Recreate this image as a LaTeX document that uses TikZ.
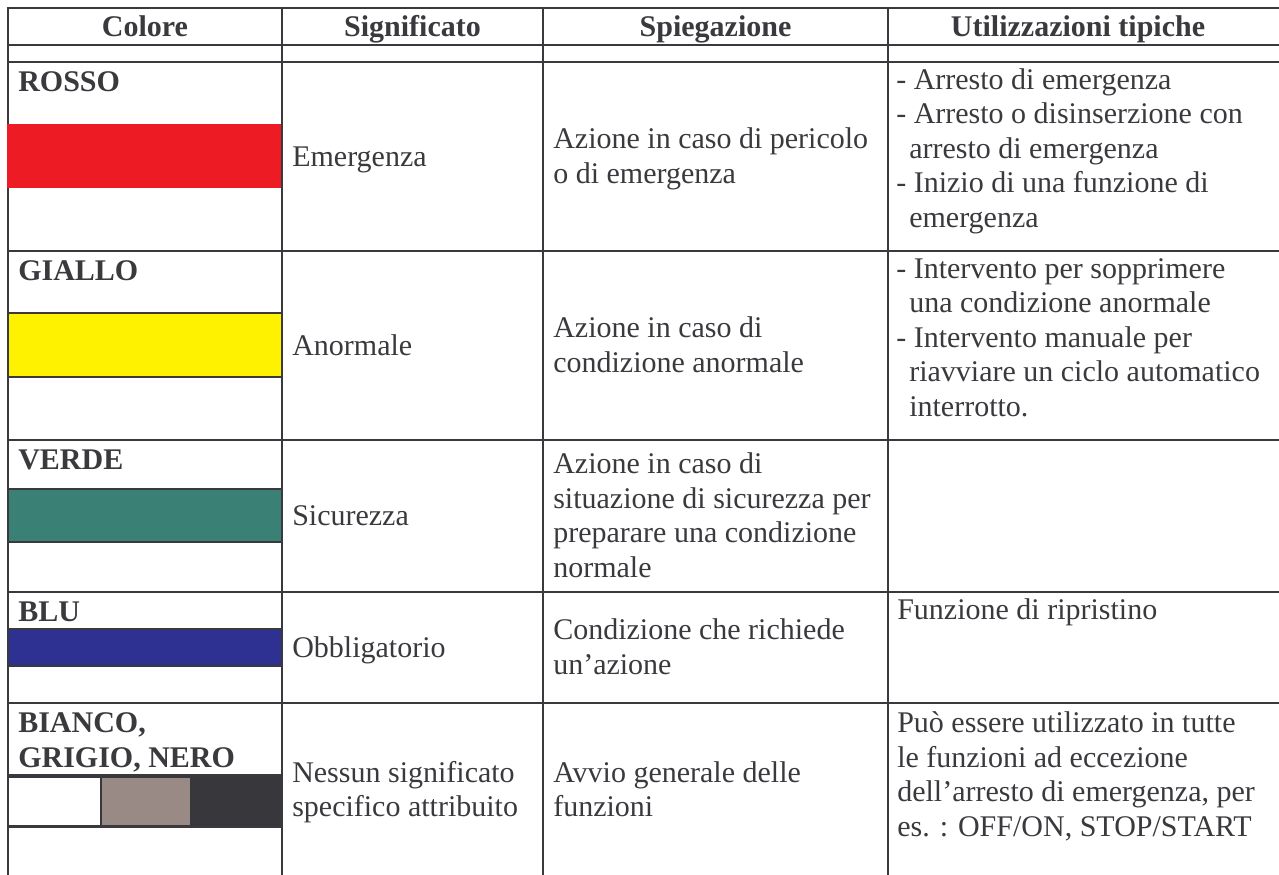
\documentclass[tikz,border=0pt]{standalone}
\usepackage{fontspec}
\setmainfont{Liberation Serif}
\definecolor{lc}{RGB}{58,58,62}
\definecolor{rossoc}{RGB}{237,28,36}
\definecolor{gialloc}{RGB}{255,242,0}
\definecolor{verdec}{RGB}{59,128,116}
\definecolor{bluc}{RGB}{46,49,146}
\definecolor{grigioc}{RGB}{153,138,133}
\definecolor{neroc}{RGB}{56,55,60}
\newcommand\cellfont{\fontsize{22.5}{26}\selectfont}
\tikzset{
  tx/.style={anchor=base west, inner sep=0pt, font=\cellfont, text=lc},
  hd/.style={anchor=base, inner sep=0pt, font=\cellfont\bfseries, text=lc},
  bd/.style={anchor=base west, inner sep=0pt, font=\cellfont\bfseries, text=lc},
  rule/.style={draw=lc, line width=1.9pt},
  swatch/.style={draw=lc, line width=1.5pt}
}
\begin{document}
\begin{tikzpicture}[x=0.75pt,y=-0.75pt]
\useasboundingbox (0,0) rectangle (1279,875);
% colour swatches under the rules
\draw[swatch, fill=gialloc] (8,313) rectangle (282,377);
\draw[swatch, fill=verdec] (8,489) rectangle (282,542);
\draw[swatch, fill=bluc] (8,629) rectangle (282,666);
\draw[swatch, fill=neroc] (8,775) rectangle (282,827);
\fill[white] (9,777.5) rectangle (99.5,824.5);
\fill[grigioc] (102,777.5) rectangle (190,824.5);
% table rules
\foreach \yy in {8,45,62,251,440,592,703}
  \draw[rule] (7,\yy) -- (1290,\yy);
\foreach \xx in {8,282,543,888}
  \draw[rule] (\xx,7) -- (\xx,885);
% red swatch covers the left border
\fill[rossoc] (6.5,124) rectangle (280.8,188);
% header
\node[hd] (h1) at (145,36) {Colore};
\node[hd] (h2) at (412.5,36) {Significato};
\node[hd] (h3) at (715.5,36) {Spiegazione};
\node[hd] (h4) at (1078,36) {Utilizzazioni tipiche};
% colour names
\node[bd] (c1) at (18,91.5) {ROSSO};
\node[bd] (c2) at (18,280.5) {GIALLO};
\node[bd] (c3) at (18,469.5) {VERDE};
\node[bd] (c4) at (18,621.5) {BLU};
\node[bd] (c5a) at (18,732.5) {BIANCO,};
\node[bd] (c5b) at (18,767) {GRIGIO, NERO};
% significato
\node[tx] (m1) at (292,166) {Emergenza};
\node[tx] (m2) at (292,355) {Anormale};
\node[tx] (m3) at (292,525.5) {Sicurezza};
\node[tx] (m4) at (292,657) {Obbligatorio};
\node[tx] (m5a) at (292,782.2) {Nessun significato};
\node[tx] (m5b) at (292,816.7) {specifico attribuito};
% spiegazione
\node[tx] (e1a) at (553,148.7) {Azione in caso di pericolo};
\node[tx] (e1b) at (553,183.2) {o di emergenza};
\node[tx] (e2a) at (553,337.7) {Azione in caso di};
\node[tx] (e2b) at (553,372.2) {condizione anormale};
\node[tx] (e3a) at (553,473.7) {Azione in caso di};
\node[tx] (e3b) at (553,508.2) {situazione di sicurezza per};
\node[tx] (e3c) at (553,542.7) {preparare una condizione};
\node[tx] (e3d) at (553,577.2) {normale};
\node[tx] (e4a) at (553,639.7) {Condizione che richiede};
\node[tx] (e4b) at (553,674.2) {un’azione};
\node[tx] (e5a) at (553,782.2) {Avvio generale delle};
\node[tx] (e5b) at (553,816.7) {funzioni};
% utilizzazioni tipiche
\node[tx] (u1a) at (896,89) {- Arresto di emergenza};
\node[tx] (u1b) at (896,123.5) {- Arresto o disinserzione con};
\node[tx] (u1c) at (909,158) {arresto di emergenza};
\node[tx] (u1d) at (896,192.5) {- Inizio di una funzione di};
\node[tx] (u1e) at (909,227) {emergenza};
\node[tx] (u2a) at (896,278) {- Intervento per sopprimere};
\node[tx] (u2b) at (909,312.5) {una condizione anormale};
\node[tx] (u2c) at (896,347) {- Intervento manuale per};
\node[tx] (u2d) at (909,381.5) {riavviare un ciclo automatico};
\node[tx] (u2e) at (909,416) {interrotto.};
\node[tx] (u4) at (897,619.5) {Funzione di ripristino};
\node[tx] (u5a) at (897,732.5) {Può essere utilizzato in tutte};
\node[tx] (u5b) at (897,767) {le funzioni ad eccezione};
\node[tx] (u5c) at (897,801.5) {dell’arresto di emergenza, per};
\node[tx] (u5d) at (897,836) {es. : OFF/ON, STOP/START};
\end{tikzpicture}
\end{document}
